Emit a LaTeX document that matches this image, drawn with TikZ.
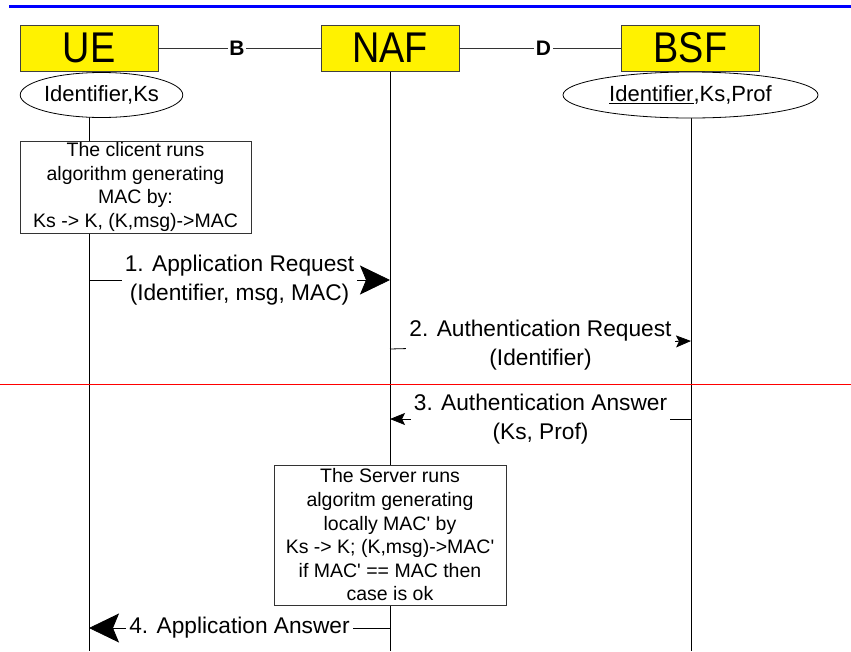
\documentclass[tikz,border=0pt]{standalone}
\usepackage{fontspec}
\setmainfont{Liberation Sans}[Ligatures=TeXOff]
\usepackage{graphicx}
\usetikzlibrary{shapes.geometric,arrows.meta}
\begin{document}
\begin{tikzpicture}[x=1pt,y=-1pt,
  entity/.style={draw=black!75, line width=0.8pt, fill=yellow, minimum width=138pt, minimum height=46pt, inner sep=0pt, font=\fontsize{43}{43}\selectfont},
  store/.style={draw=black, line width=0.8pt, fill=white, ellipse, inner sep=0pt, font=\fontsize{22}{22}\selectfont},
  link/.style={draw=black!80, line width=0.8pt},
  linklbl/.style={fill=white, inner sep=1.5pt, font=\bfseries\fontsize{21}{21}\selectfont},
  lifeline/.style={draw=black, line width=0.9pt},
  notebox/.style={draw=black!80, line width=0.8pt, fill=white, align=center, inner sep=0pt, font=\fontsize{19.5}{23.6}\selectfont},
  msg/.style={fill=white, align=center, inner xsep=3pt, inner ysep=1pt, font=\fontsize{22.7}{29}\selectfont},
  bigarrow/.style={draw=black, line width=0.8pt, -{Stealth[length=30pt, width=29pt, inset=6pt]}},
  smallarrow/.style={draw=black, line width=0.8pt, -{Stealth[length=15pt, width=12pt, inset=3pt]}}
]
\useasboundingbox (0,0) rectangle (851,651);

% top blue rule
\draw[blue, line width=3pt] (9,6) -- (851,6);

% lifeline coordinates
\coordinate (ueTop) at (89,117);
\coordinate (ueBot) at (89,651);
\coordinate (nafTop) at (390,71);
\coordinate (nafBot) at (390,651);
\coordinate (bsfTop) at (691,118);
\coordinate (bsfBot) at (691,651);

\draw[lifeline] (ueTop) -- (ueBot);
\draw[lifeline] (nafTop) -- (nafBot);
\draw[lifeline] (bsfTop) -- (bsfBot);

% red separator
\draw[red, line width=1pt] (0,384) -- (851,384);

% entities
\node[entity] (ue) at (89,48) {\scalebox{0.88}[1]{UE}};
\node[entity] (naf) at (390,48) {\scalebox{0.88}[1]{NAF}};
\node[entity] (bsf) at (690.5,48) {\scalebox{0.88}[1]{BSF}};

\draw[link] (ue) -- node[linklbl, pos=0.485] (lb) {B} (naf);
\draw[link] (naf) -- node[linklbl, pos=0.52] (ld) {D} (bsf);

% stores
\node[store, minimum width=162pt, minimum height=45pt] (ueS) at (101.5,95) {Identifier,Ks};
\node[store, minimum width=255pt, minimum height=46pt] (bsfS) at (690.5,95) {\underline{Identifier},Ks,Prof};

% client box
\node[notebox, minimum width=231pt, minimum height=92pt] (client) at (135.5,187)
  {The clicent runs\\algorithm generating\\MAC by:\\Ks -> K, (K,msg)->MAC};

% server box
\node[notebox, minimum width=232pt, minimum height=140pt] (server) at (390,535)
  {The Server runs\\algoritm generating\\locally MAC' by\\Ks -> K; (K,msg)->MAC'\\if MAC' == MAC then\\case is ok};

% message coordinates
\coordinate (m1s) at (89,280);
\coordinate (m1e) at (390,280);
\coordinate (m2s) at (390,349);
\coordinate (m2e) at (691,341);
\coordinate (m3s) at (691,419);
\coordinate (m3e) at (390,419);
\coordinate (m4s) at (390,628);
\coordinate (m4e) at (89,628);

\draw[bigarrow] (m1s) -- node[msg] (l1) {1. Application Request\\(Identifier, msg, MAC)} (m1e);
\draw[smallarrow] (m2s) -- node[msg] (l2) {2. Authentication Request\\(Identifier)} (m2e);
\draw[smallarrow] (m3s) -- node[msg] (l3) {3. Authentication Answer\\(Ks, Prof)} (m3e);
\draw[bigarrow] (m4s) -- node[msg, inner ysep=0pt] (l4) {4. Application Answer} (m4e);

\end{tikzpicture}
\end{document}
